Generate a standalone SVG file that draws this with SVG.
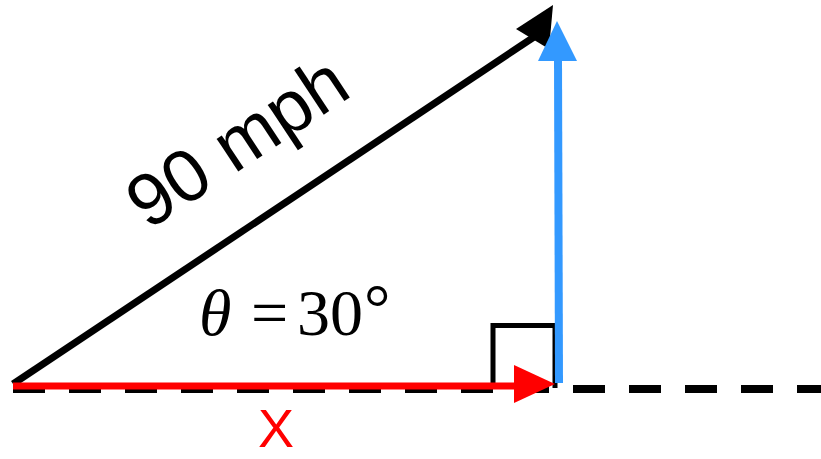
<svg xmlns="http://www.w3.org/2000/svg" width="821" height="459" viewBox="0 0 821 459">
<style>
.dash{stroke:#000;stroke-width:8;stroke-dasharray:32 24;fill:none}
.blk{stroke:#000;stroke-width:7;fill:none}
.red{stroke:#FF0000;stroke-width:7;fill:none}
.blue{stroke:#3399FF;stroke-width:8;fill:none}
.sq{stroke:#000;stroke-width:5;fill:none}
.lbl{font-family:"Liberation Sans",Arial,sans-serif}
.math{font-family:"Liberation Serif","Times New Roman",serif;font-size:66px;fill:#000}
</style>
<rect width="821" height="459" fill="#fff"/>
<g id="connectors">
  <line class="dash" x1="13" y1="389" x2="821" y2="389"/>
  <polyline id="right-angle" class="sq" points="493,388 493,325.5 555,325.5 555,388"/>
  <g id="hypotenuse">
    <line class="blk" x1="13" y1="384" x2="534" y2="37"/>
    <polygon points="553,5 516,29 549,49" fill="#000"/>
  </g>
  <g id="x-component">
    <line class="red" x1="13" y1="386" x2="516" y2="386"/>
    <polygon points="514,365 555,384 514,403" fill="#FF0000"/>
  </g>
  <g id="y-component">
    <line class="blue" x1="559" y1="383" x2="558" y2="58"/>
    <polygon points="557,21 577,61 538,61" fill="#3399FF"/>
  </g>
</g>
<g id="label-speed">
  <text class="lbl" font-size="74" text-anchor="middle" transform="translate(251,163) rotate(-33.5)">90 mph</text>
</g>
<g id="label-angle">
  <text class="math" x="199" y="335" font-style="italic">θ</text>
  <text class="math" x="251" y="335">=</text>
  <text class="math" x="297" y="335">30</text>
  <text class="math" x="364" y="330" font-size="54">°</text>
</g>
<g id="label-x">
  <text class="lbl" font-size="54" fill="#FF0000" x="276" y="447" text-anchor="middle">X</text>
</g>
</svg>
